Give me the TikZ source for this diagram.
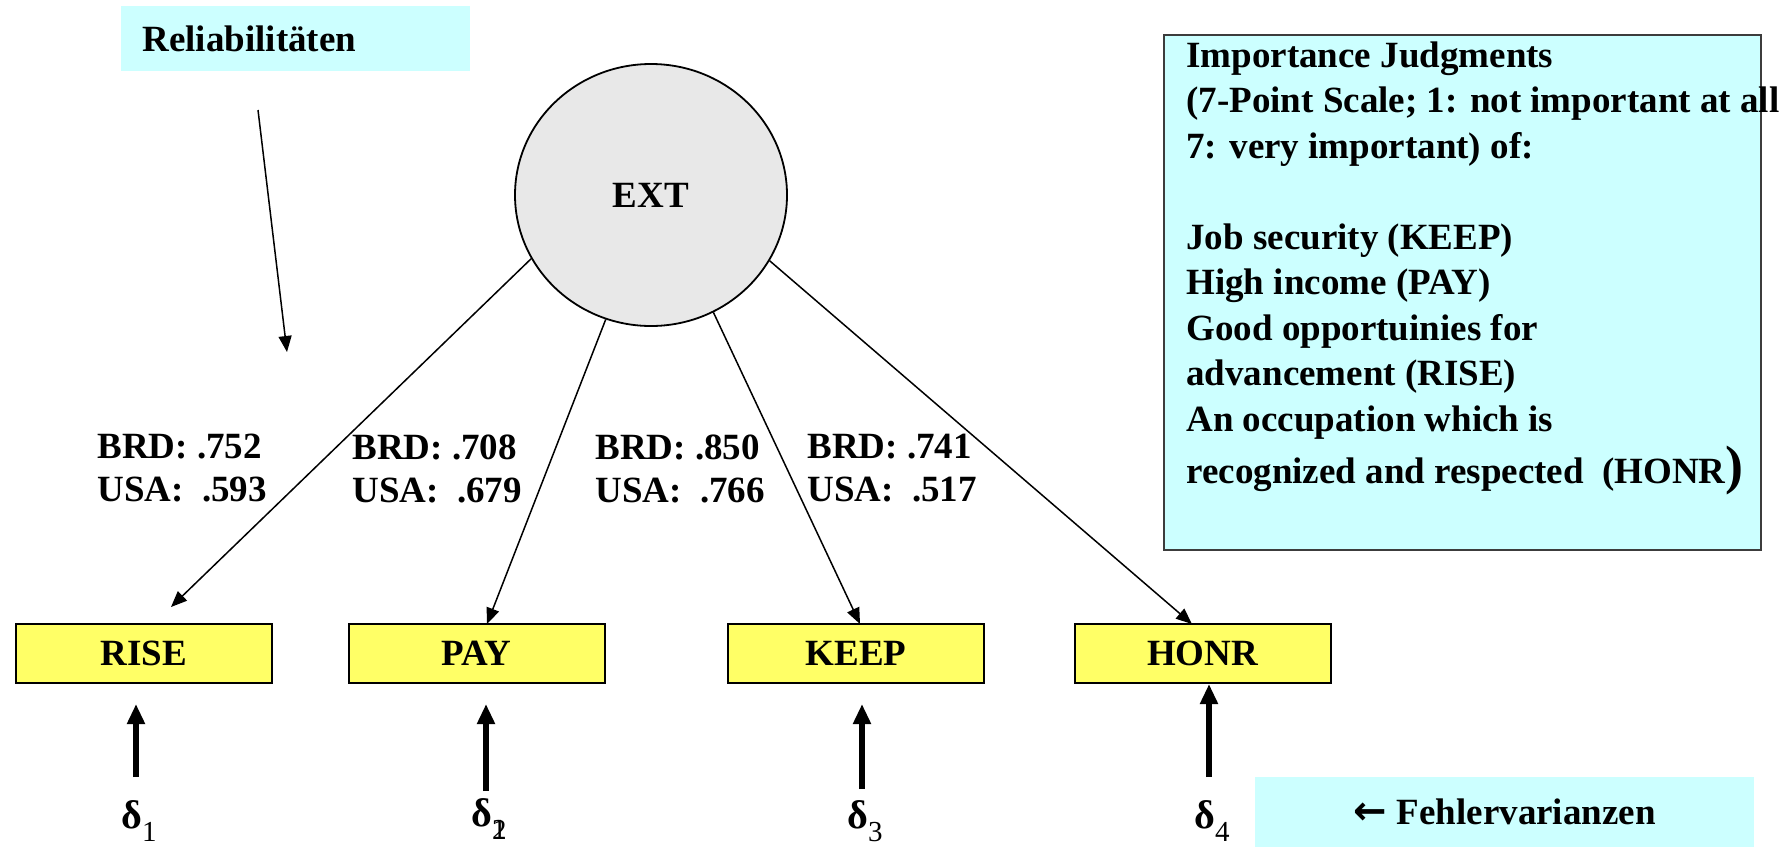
\documentclass[tikz,border=0pt]{standalone}
\usepackage{fontspec}
\setmainfont{Liberation Serif}
\newfontfamily\arrowfont{DejaVu Sans}
\usetikzlibrary{arrows.meta,shapes.geometric}
\definecolor{paleCyan}{RGB}{204,255,255}
\definecolor{boxYellow}{RGB}{255,255,102}
\definecolor{latentGrey}{RGB}{232,232,232}
\definecolor{frameGrey}{RGB}{60,60,60}
% lowered subscript for the error terms
\newcommand\dsub[1]{\raisebox{-6.5pt}{\fontsize{14.5}{14.5}\selectfont\mdseries #1}}
\tikzset{
  lbl/.style={font=\fontsize{18.5}{21.5}\selectfont\bfseries, inner sep=0pt, align=left},
  obs/.style={draw, line width=1pt, fill=boxYellow, minimum width=128pt,
    minimum height=29.5pt, inner sep=0pt, font=\fontsize{18.5}{22}\selectfont\bfseries},
  latent/.style={ellipse, draw, line width=0.9pt, fill=latentGrey, minimum width=136pt,
    minimum height=131pt, inner sep=0pt, font=\fontsize{18.5}{22}\selectfont\bfseries},
  load/.style={line width=0.75pt, -{Triangle[length=8pt,width=6.5pt]}},
  err/.style={line width=2.6pt, -{Triangle[length=10pt,width=8.5pt]}},
  note/.style={fill=paleCyan, inner sep=0pt},
  errlbl/.style={inner sep=0pt, font=\fontsize{20}{24}\selectfont\bfseries}
}
\begin{document}
\begin{tikzpicture}[x=0.5pt,y=-0.5pt]
\useasboundingbox (0,0) rectangle (1792,847);

% legend boxes
\node[note, anchor=north west, minimum width=174.5pt, minimum height=32.5pt,
      text width=153.5pt, inner xsep=10.5pt, align=left,
      font=\fontsize{18.5}{22}\selectfont\bfseries] (rel) at (121,6) {Reliabilitäten};
\coordinate (relA) at (258,110);
\coordinate (relB) at (287,352);
\draw[load] (relA) -- (relB);

\node[note, draw=frameGrey, line width=0.8pt, anchor=north west,
      minimum width=298.5pt, minimum height=257.5pt] (info) at (1163,34) {};
\node[lbl, anchor=north west, font=\fontsize{18.5}{22.75}\selectfont\bfseries] (infotext) at (1186,41)
  {Importance Judgments\\
   (7-Point Scale; 1: not important at all\\
   7: very important) of:\\
   \mbox{}\\
   Job security (KEEP)\\
   High income (PAY)\\
   Good opportuinies for\\
   advancement (RISE)\\
   An occupation which is\\[3.5pt]
   recognized and respected\ \ (HONR{\fontsize{27}{27}\selectfont)}};

\node[note, minimum width=249.5pt, minimum height=35pt,
      font=\fontsize{18.5}{22}\selectfont\bfseries] (fehl) at (1504.5,812)
  {{\arrowfont\bfseries\fontsize{20}{22}\selectfont ←}\hspace{5pt}Fehlervarianzen};

% latent factor and indicators
\node[latent] (EXT) at (651,195) {EXT};

\node[obs] (RISE) at (144,653.5) {RISE};
\node[obs] (PAY)  at (476.5,653.5) {PAY};
\node[obs] (KEEP) at (856,653.5) {KEEP};
\node[obs] (HONR) at (1202.5,653.5) {HONR};

\coordinate (tR) at (171,607);
\coordinate (tP) at (487,624);
\coordinate (tK) at (860,624);
\coordinate (tH) at (1192,624);
\draw[load] (EXT.208.8) -- (tR);
\draw[load] (EXT.250.6) -- (tP);
\draw[load] (EXT.298.6) -- (tK);
\draw[load] (EXT.331)   -- (tH);

% reliabilities
\node[lbl, anchor=north west] (r1) at (97,434)  {BRD: .752\\USA:\ \ .593};
\node[lbl, anchor=north west] (r2) at (352,434) {BRD: .708\\USA:\ \ .679};
\node[lbl, anchor=north west] (r3) at (595,434) {BRD: .850\\USA:\ \ .766};
\node[lbl, anchor=north west] (r4) at (807,434) {BRD: .741\\USA:\ \ .517};

% error terms
\node[errlbl] (d1) at (139,821) {δ\dsub{1}};
\node[errlbl] (d2) at (489,819) {δ\dsub{\rlap{1}2}};
\node[errlbl] (d3) at (865,821) {δ\dsub{3}};
\node[errlbl] (d4) at (1212,821) {δ\dsub{4}};

\coordinate (e1) at (136,777);
\coordinate (e2) at (486,791);
\coordinate (e3) at (862,789);
\coordinate (e4) at (1209,777);
\draw[err, shorten >=10pt] (e1) -- (e1 |- RISE.south);
\draw[err, shorten >=10pt] (e2) -- (e2 |- PAY.south);
\draw[err, shorten >=10pt] (e3) -- (e3 |- KEEP.south);
\draw[err] (e4) -- (e4 |- HONR.south);
\end{tikzpicture}
\end{document}
